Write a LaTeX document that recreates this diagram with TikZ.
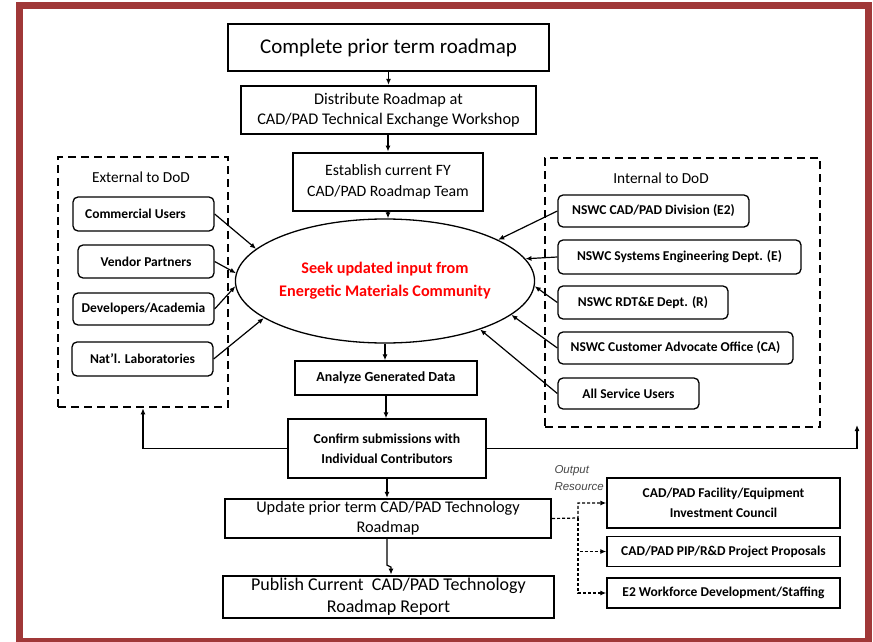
\documentclass[tikz,border=0pt]{standalone}
\usepackage{fontspec}
\setmainfont{Carlito}
\newfontfamily\arialfont{Liberation Sans}
\usetikzlibrary{arrows.meta,shapes.geometric}
\definecolor{framered}{RGB}{160,56,56}
\definecolor{seekred}{RGB}{255,0,0}
\definecolor{notegray}{RGB}{70,70,70}

\begin{document}
\begin{tikzpicture}[x=1pt,y=-1pt,
    stepbox/.style={draw, line width=#1, inner sep=0pt, align=center},
    stepbox/.default=1.4pt,
    member/.style={draw, rounded corners=5pt, line width=1.3pt, inner sep=0pt,
        font=\bfseries\fontsize{13.5}{16}\selectfont},
    outbox/.style={stepbox, font=\bfseries\fontsize{13.5}{20}\selectfont, minimum width=233pt},
    group/.style={draw, dash pattern=on 8pt off 5pt, line width=2.5pt, inner sep=0pt},
    arr/.style={-{Latex[length=6pt,width=5pt]}, line width=1.2pt},
    outarr/.style={arr, dash pattern=on 3pt off 2pt}]
    \useasboundingbox (0,0) rectangle (873,642);
    \draw[framered, line width=7pt] (19.5,5.5) rectangle (868.5,641.5);

    % main flow
    \node[stepbox=2.8pt, minimum width=321pt, minimum height=47pt, font=\fontsize{21}{24}\selectfont] (complete) at (388.5,47.5) {Complete prior term roadmap};
    \node[stepbox=2.3pt, minimum width=295pt, minimum height=48pt, font=\fontsize{16.3}{20}\selectfont] (distribute) at (388.5,110) {Distribute Roadmap at\\CAD/PAD Technical Exchange Workshop};
    \node[stepbox=2.8pt, minimum width=190pt, minimum height=58pt, font=\fontsize{15.8}{21}\selectfont] (team) at (388,182) {Establish current FY\\CAD/PAD Roadmap Team};
    \node[ellipse, draw, line width=1.3pt, minimum width=262pt, minimum height=124pt, inner sep=0pt,
        text=seekred, align=center, font=\bfseries\fontsize{16.2}{23}\selectfont] (seek) at (385,281) {Seek updated input from\\Energetic Materials Community};
    \node[stepbox, minimum width=182pt, minimum height=34pt, font=\bfseries\fontsize{13.9}{17}\selectfont] (analyze) at (386,378) {Analyze Generated Data};
    \node[stepbox, minimum width=198pt, minimum height=59pt, font=\bfseries\fontsize{13.7}{20}\selectfont] (confirm) at (387,448.5) {Confirm submissions with\\Individual Contributors};
    \node[stepbox=2.3pt, minimum width=326pt, minimum height=39pt, font=\fontsize{16.3}{20}\selectfont] (update) at (388,518.5) {Update prior term CAD/PAD Technology\\Roadmap};
    \node[stepbox=2.8pt, minimum width=331pt, minimum height=42pt, font=\fontsize{18}{22}\selectfont] (publish) at (388.5,597) {Publish Current\ \ CAD/PAD Technology\\Roadmap Report};

    % external to DoD
    \node[group, minimum width=170pt, minimum height=250pt] (external) at (143,282) {};
    \node[font=\fontsize{15.3}{18}\selectfont] (extlabel) at (141,177) {External to DoD};
    \node[member, minimum width=141pt, minimum height=34pt] (commercial) at (143.5,214) {Commercial Users\hspace*{16pt}};
    \node[member, minimum width=136pt, minimum height=33pt] (vendor) at (146,261.5) {Vendor Partners};
    \node[member, minimum width=141pt, minimum height=32pt] (academia) at (143.5,309) {Developers/Academia};
    \node[member, minimum width=141pt, minimum height=34pt] (labs) at (142.5,359) {Nat’l. Laboratories};

    % internal to DoD
    \node[group, minimum width=275pt, minimum height=269pt] (internal) at (682.5,292.5) {};
    \node[font=\fontsize{15.3}{18}\selectfont] (intlabel) at (661,178) {Internal to DoD};
    \node[member, minimum width=191pt, minimum height=32pt] (division) at (653.5,211) {NSWC CAD/PAD Division (E2)};
    \node[member, minimum width=243pt, minimum height=34pt] (syseng) at (679.5,257) {NSWC Systems Engineering Dept. (E)};
    \node[member, minimum width=170pt, minimum height=33pt] (rdte) at (643,302.5) {NSWC RDT\&E Dept. (R)};
    \node[member, minimum width=235pt, minimum height=32pt] (advocate) at (675.5,348) {NSWC Customer Advocate Office (CA)};
    \node[member, minimum width=141pt, minimum height=31pt] (service) at (628.5,393.5) {All Service Users};

    % outputs
    \node[outbox, minimum height=50pt] (facility) at (723.5,503) {CAD/PAD Facility/Equipment\\Investment Council};
    \node[outbox, minimum height=30pt] (pip) at (723.5,551.5) {CAD/PAD PIP/R\&D Project Proposals};
    \node[outbox, minimum height=30pt] (workforce) at (723.5,593) {E2 Workforce Development/Staffing};
    \node[anchor=west, align=left, text=notegray, font=\arialfont\itshape\fontsize{11.5}{17}\selectfont] (outlabel) at (551,478.5) {Output\\Resource};

    \coordinate (split) at (578,518);
    \coordinate (backright) at (857,425);

    % connectors
    \draw[arr] (complete.south) -- (distribute.north);
    \draw[arr] (distribute.south -| team) -- (team.north);
    \draw[arr] (team.south) -- (team.south |- seek.north);
    \draw[arr] (seek.south) -- (seek.south |- analyze.north);
    \draw[arr] (analyze.south) -- (analyze.south |- confirm.north);
    \draw[arr] (confirm.south) -- (confirm.south |- update.north);
    \draw[arr] (update.south -| confirm) -- ++(0,26) -- ++(4,2) coordinate (jog) -- (jog |- publish.north);

    \draw[arr] (commercial.east) -- (seek.166);
    \draw[arr] (vendor.east) -- (seek.177);
    \draw[arr] (academia.east) -- (seek.182);
    \draw[arr] (labs.east) -- (seek.197);

    \draw[arr] (division.west) -- (seek.20);
    \draw[arr] (syseng.west) -- (seek.9);
    \draw[arr] (rdte.west) -- (seek.-2);
    \draw[arr] (advocate.west) -- (seek.-15);
    \draw[arr] (service.west) -- (seek.-27);

    \draw[arr] (confirm.west) -| (external.south);
    \draw[arr] (confirm.east) -| (backright);

    \draw[outarr] (update.east) -- (split) |- (facility.west);
    \draw[outarr] (split) |- (pip.west);
    \draw[outarr] (split) |- (workforce.west);
\end{tikzpicture}
\end{document}
